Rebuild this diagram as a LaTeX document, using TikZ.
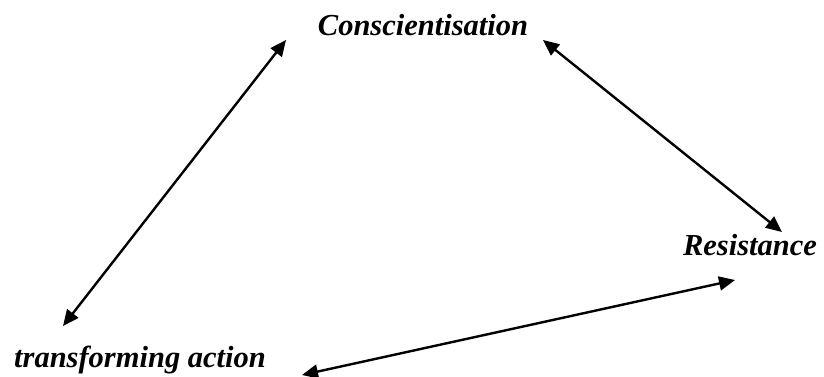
\documentclass[tikz,border=0pt]{standalone}
\usepackage{fontspec}
\setmainfont{Liberation Serif}
\usetikzlibrary{arrows.meta}
\begin{document}
\begin{tikzpicture}[x=1pt,y=-1pt,
  lbl/.style={font=\fontsize{30.5}{36}\selectfont\bfseries\itshape, inner sep=0pt, anchor=base},
  link/.style={line width=2.4pt, {Triangle[length=16pt,width=14pt]}-{Triangle[length=16pt,width=14pt]}}]
\useasboundingbox (0,0) rectangle (824,376);
\node[lbl] (consc) at (423,35) {Conscientisation};
\node[lbl] (resist) at (750,255) {Resistance};
\node[lbl] (trans) at (140,367) {transforming action};
\coordinate (c1) at (286,40);
\coordinate (t1) at (63,326);
\coordinate (c2) at (543,40);
\coordinate (r1) at (782,232);
\coordinate (r2) at (735,280);
\coordinate (t2) at (302,375);
\draw[link] (t1) -- (c1);
\draw[link] (c2) -- (r1);
\draw[link] (t2) -- (r2);
\end{tikzpicture}
\end{document}
